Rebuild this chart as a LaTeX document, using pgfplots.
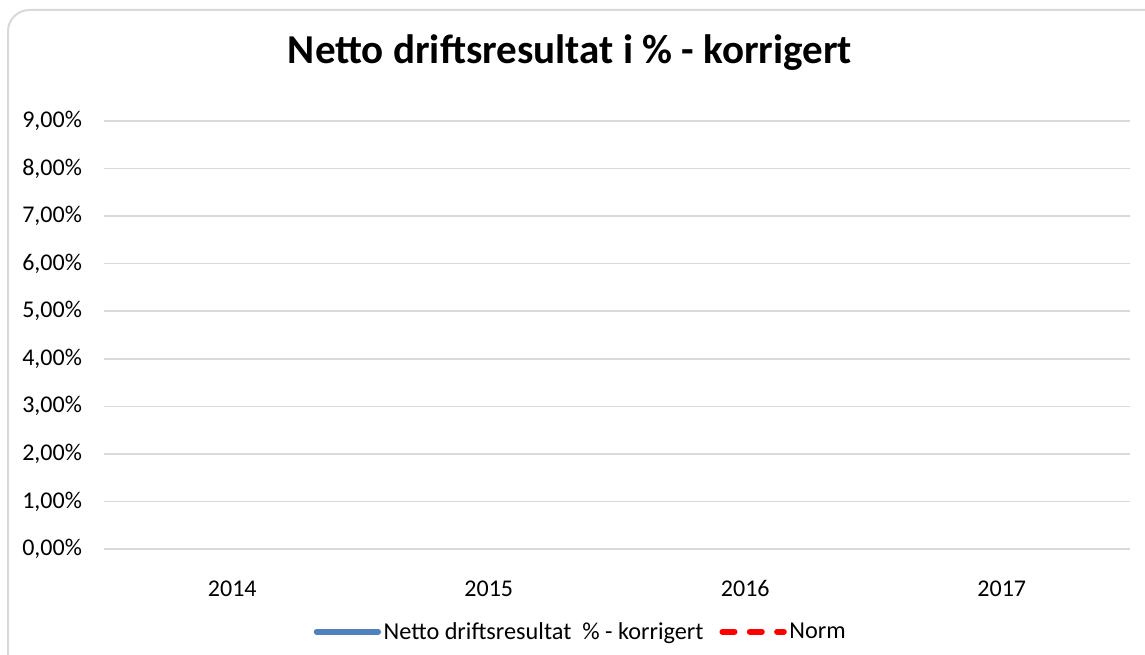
\documentclass[border=0pt]{standalone}
\usepackage{pgfplots}
\pgfplotsset{compat=1.18}
\usepackage{fontspec}
\setmainfont{Carlito}
\definecolor{gridgray}{HTML}{D9D9D9}
\definecolor{serieblue}{HTML}{4F81BD}
\begin{document}
\begin{tikzpicture}[x=0.75pt,y=0.75pt]
\useasboundingbox (0,0) rectangle (1145,654);
% chart frame, cut at the right and bottom like the reference
\draw[gridgray, line width=1.5pt, rounded corners=16pt] (8,644) rectangle (1170,-30);
\node[font=\fontsize{30.8pt}{36pt}\selectfont\bfseries] at (570,601) {Netto driftsresultat i \% - korrigert};
\begin{axis}[
  at={(78pt,78.75pt)}, anchor=south west,
  scale only axis, width=769.5pt, height=321pt,
  xmin=-0.5, xmax=3.5, ymin=0, ymax=9,
  xtick={0,1,2,3}, xticklabels={2014,2015,2016,2017},
  ytick={0,1,...,9},
  yticklabels={{0,00\%},{1,00\%},{2,00\%},{3,00\%},{4,00\%},{5,00\%},{6,00\%},{7,00\%},{8,00\%},{9,00\%}},
  major tick length=0pt,
  axis line style={draw=none},
  ymajorgrids, grid style={gridgray, line width=1.2pt},
  tick label style={font=\fontsize{18pt}{21pt}\selectfont},
  yticklabel style={xshift=-13pt},
  xticklabel style={anchor=north, yshift=-19pt, text height=13pt, text depth=3pt},
  legend style={draw=none, fill=none, at={(0.465,0)}, anchor=center, yshift=-62pt,
    font=\fontsize{18.2pt}{21pt}\selectfont, legend columns=2,
    /tikz/every even column/.append style={column sep=10pt}},
  legend image code/.code={\draw[#1] (0pt,0pt) -- (46pt,0pt);},
]
  \addlegendimage{serieblue, line width=4.5pt, line cap=round}
  \addlegendentry{Netto driftsresultat \ \% - korrigert}
  \addlegendimage{red, line width=4.5pt, line cap=round, dash pattern=on 9pt off 11.5pt}
  \addlegendentry{Norm}
\end{axis}
\end{tikzpicture}
\end{document}
